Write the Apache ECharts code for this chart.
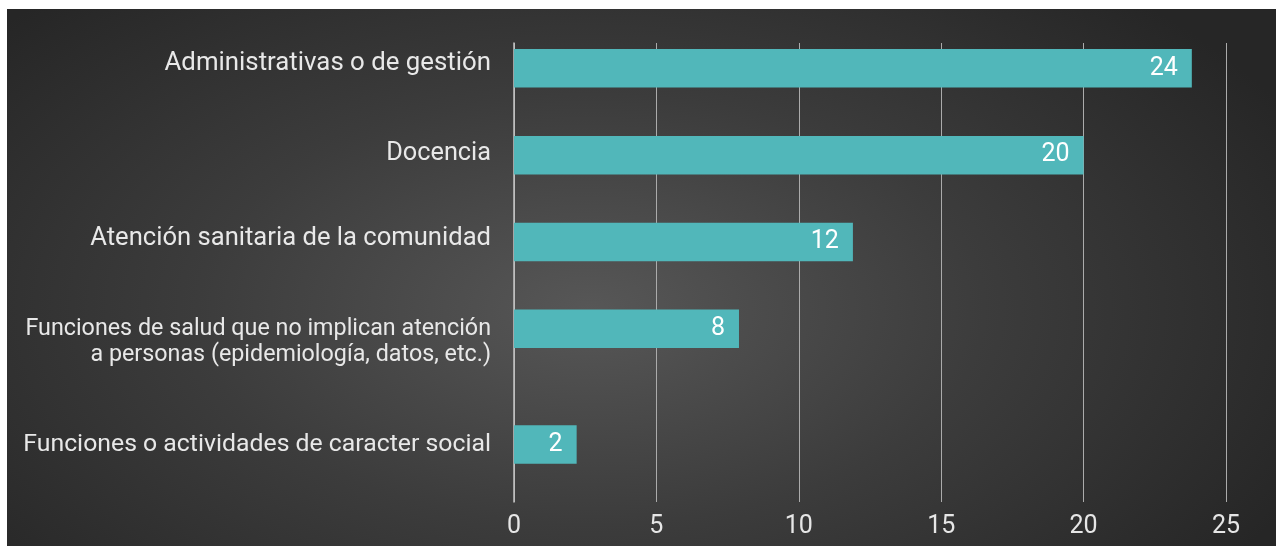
<!DOCTYPE html>
<html><head><meta charset="utf-8">
<script src="https://cdn.jsdelivr.net/npm/echarts@6/dist/echarts.min.js"></script>
<style>
html,body{margin:0;padding:0;background:#fff;width:1276px;height:546px;overflow:hidden;}
#chart{position:absolute;left:7px;top:9px;width:1269px;height:537px;
background:radial-gradient(ellipse 62% 80% at 46% 56%, #575757 0%, #3c3c3c 50%, #262626 100%);}
</style></head><body><div id="chart"></div>
<script>
// ---- data ----
const categories = [
  'Administrativas o de gestión',
  'Docencia',
  'Atención sanitaria de la comunidad',
  'Funciones de salud que no implican atención\na personas (epidemiología, datos, etc.)',
  'Funciones o actividades de caracter social'
];
const values = [23.8, 20.0, 11.9, 7.9, 2.2];
const xTicks = [0, 5, 10, 15, 20, 25];

// ---- layout: spacing (in slots) between consecutive bars, per-label font sizes / nudges ----
const slotGaps = [3, 3, 3, 4];
const labelSizes = [25.8, 25.3, 25.6, 23.3, 24.8];
const labelLift = [10, 3, 6, 0, 0];
const slotCats = [], slotVals = [], slotToCat = [];
categories.forEach((c, i) => {
  slotCats.push(c); slotVals.push(values[i]); slotToCat.push(i);
  if (i < slotGaps.length) for (let k = 1; k < slotGaps[i]; k++) { slotCats.push(' ' + i + '_' + k); slotVals.push('-'); slotToCat.push(-1); }
});
const rich = {};
labelSizes.forEach((fs, i) => {
  rich['s' + i] = {fontSize: fs, fontFamily: 'Roboto', color: '#e8e8e8', padding: [0, 0, labelLift[i], 0], align: 'right'};
  rich['a' + i] = {fontSize: fs, fontFamily: 'Roboto', color: '#e8e8e8', padding: [29, 0, 0, 0], align: 'right'};
  rich['b' + i] = {fontSize: fs, fontFamily: 'Roboto', color: '#e8e8e8', lineHeight: 29, align: 'right'};
});
function fmtLabel(v, idx) {
  const ci = slotToCat[idx];
  if (ci === undefined || ci < 0) return '';
  const lines = v.split('\n');
  if (lines.length === 1) return '{s' + ci + '|' + v + '}';
  return lines.map((l, j) => '{' + (j === 0 ? 'a' : 'b') + ci + '|' + l + '}').join('\n');
}

const FONT = 'Roboto';
const chart = echarts.init(document.getElementById('chart'), null, {renderer: 'canvas'});
const xMin = xTicks[0], xMax = xTicks[xTicks.length - 1], xInt = xTicks[1] - xTicks[0];
chart.setOption({
  backgroundColor: 'transparent',
  animation: false,
  grid: [
    {left: 507, right: 50, top: 44.9, bottom: 87.1},
    {left: 507, right: 50, top: 34, bottom: 44}
  ],
  xAxis: [
    {gridIndex: 0, type: 'value', min: xMin, max: xMax, interval: xInt, show: false},
    {gridIndex: 1, type: 'value', min: xMin, max: xMax, interval: xInt,
     axisLine: {show: false}, axisTick: {show: false},
     splitLine: {show: true, lineStyle: {color: '#ababab', width: 1}},
     axisLabel: {color: '#e6e6e6', fontSize: 25, fontFamily: FONT, margin: 12}}
  ],
  yAxis: [
    {gridIndex: 0, type: 'category', inverse: true, data: slotCats,
     axisLine: {show: false}, axisTick: {show: false}, splitLine: {show: false},
     axisLabel: {color: '#e8e8e8', fontSize: 25.5, fontFamily: FONT, margin: 23,
       interval: 0, rich: rich, formatter: fmtLabel}},
    {gridIndex: 1, type: 'value', show: true,
     axisLine: {show: true, lineStyle: {color: '#c4c4c4', width: 1.5}},
     axisTick: {show: false}, axisLabel: {show: false}, splitLine: {show: false}}
  ],
  series: [{
    type: 'pictorialBar', xAxisIndex: 0, yAxisIndex: 0, data: slotVals,
    symbol: 'rect', symbolSize: ['100%', 38.5], symbolRepeat: false,
    itemStyle: {color: '#51b7ba'},
    z: 5,
    label: {show: true, position: 'insideRight', distance: 14, color: '#ffffff',
      fontSize: 25, fontFamily: FONT, formatter: p => Math.round(p.value)}
  }]
});
</script></body></html>
